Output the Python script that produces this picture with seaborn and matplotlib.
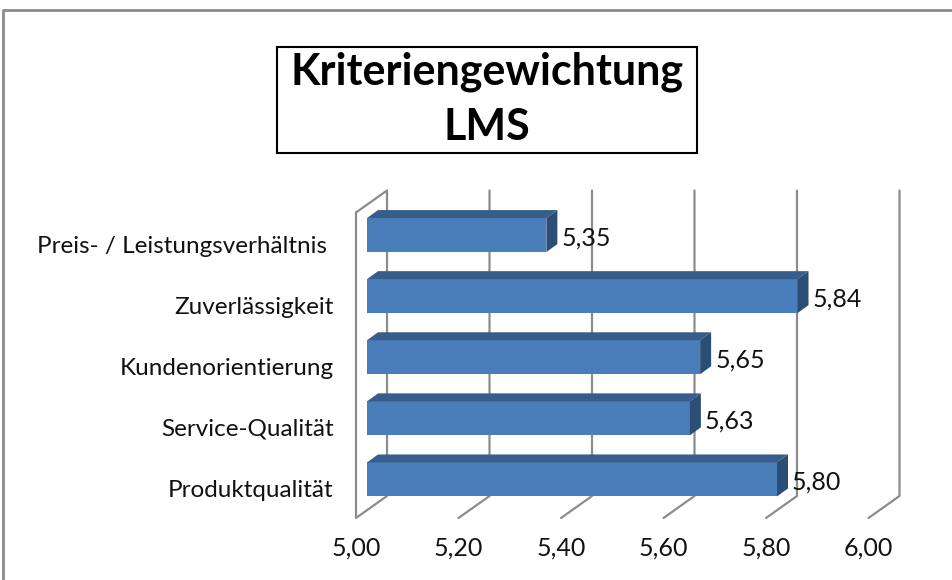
import numpy as np
import pandas as pd
import matplotlib
matplotlib.use("Agg")
import matplotlib.pyplot as plt
import seaborn as sns
from matplotlib.patches import Polygon, Rectangle
from matplotlib.lines import Line2D
from matplotlib.transforms import ScaledTranslation, IdentityTransform

# ── Data ─────────────────────────────────────────────────────────────────────
categories = [
    "Preis- / Leistungsverhältnis ",
    "Zuverlässigkeit",
    "Kundenorientierung",
    "Service-Qualität",
    "Produktqualität",
]
values = [5.35, 5.84, 5.65, 5.63, 5.80]
x_ticks = [5.00, 5.20, 5.40, 5.60, 5.80, 6.00]
title = "Kriteriengewichtung\nLMS"

# ── Style ────────────────────────────────────────────────────────────────────
sns.set_style("white")
plt.rcParams["font.family"] = ["Lato", "DejaVu Sans"]

FRONT = "#4A7EBB"
TOP = "#385D8A"
SIDE = "#2C4D75"
GRID = "#8C8C8C"
FS = 18

W, H, DPI = 953, 580, 100
fig = plt.figure(figsize=(W / DPI, H / DPI), dpi=DPI)

# axes box in pixels (front plane of the bars)
ax_l, ax_r = 367, 879.5
ax_t, ax_b = 204.5, 510
ax = fig.add_axes([ax_l / W, 1 - ax_b / H, (ax_r - ax_l) / W, (ax_b - ax_t) / H])
ax.patch.set_visible(False)

df = pd.DataFrame({"Kriterium": categories, "Wert": values})
bar_h = 0.556
sns.barplot(data=df, x="Wert", y="Kriterium", orient="h", color=FRONT,
            width=bar_h, saturation=1, edgecolor="none", ax=ax, zorder=3)
ax.set_xlim(5.0, 6.0)
ax.set_ylim(len(categories) - 0.5, -0.5)
for s in ax.spines.values():
    s.set_visible(False)
ax.set_xlabel("")
ax.set_ylabel("")
ax.set_xticks(x_ticks)
ax.set_xticklabels([f"{t:.2f}".replace(".", ",") for t in x_ticks], fontsize=FS, color="#111111")
ax.tick_params(axis="both", length=0)
ax.tick_params(axis="x", pad=19)
ax.tick_params(axis="y", pad=24)
ax.set_yticklabels(categories, fontsize=17.5, color="#111111")

# 3D offsets (pixels, display coords: y up)
dpx, dpy = 11, 8          # bar depth
bx, by = 20, 14           # back wall relative to bar front
fx, fy = -11, -8          # front floor relative to bar front

def off(dx, dy):
    return ScaledTranslation(dx / DPI, dy / DPI, fig.dpi_scale_trans)

for lab in ax.get_yticklabels():
    lab.set_transform(lab.get_transform() + off(0, -9))
for lab in ax.get_xticklabels():
    lab.set_transform(lab.get_transform() + off(fx, 0))

ident = IdentityTransform()
tD = ax.transData

# walls / gridlines
y_top_disp = tD.transform((5.0, -0.5))[1]
y_bot_disp = tD.transform((5.0, len(categories) - 0.5))[1]
for t in x_ticks:
    xd = tD.transform((t, 0))[0]
    pts = [(xd + fx, y_bot_disp + fy), (xd + bx, y_bot_disp + by), (xd + bx, y_top_disp + by)]
    if t == x_ticks[0]:
        pts = [(xd + fx, y_top_disp + fy), (xd + fx, y_bot_disp + fy)] + pts[1:] + \
              [(xd + bx, y_top_disp + by), (xd + fx, y_top_disp + fy)]
    xs, ys = zip(*pts)
    fig.add_artist(Line2D(xs, ys, transform=ident, color=GRID, lw=1.6, zorder=-1))

# 3D bar faces and value labels
for i, v in enumerate(values):
    x0, y_up = tD.transform((5.0, i - bar_h / 2))
    x1, y_lo = tD.transform((v, i + bar_h / 2))
    top = [(x0, y_up), (x1, y_up), (x1 + dpx, y_up + dpy), (x0 + dpx, y_up + dpy)]
    side = [(x1, y_up), (x1, y_lo), (x1 + dpx, y_lo + dpy), (x1 + dpx, y_up + dpy)]
    fig.add_artist(Polygon(top, closed=True, transform=ident, facecolor=TOP,
                           edgecolor="none", zorder=2))
    fig.add_artist(Polygon(side, closed=True, transform=ident, facecolor=SIDE,
                           edgecolor="none", zorder=2))
    fig.text(x1 + dpx + 4, (y_up + y_lo) / 2 - 3, f"{v:.2f}".replace(".", ","),
             transform=ident, ha="left", va="center", fontsize=FS,
             color="#111111", zorder=4)

# title box
fig.add_artist(Rectangle((277 / W, 1 - 153 / H), 420 / W, 106 / H,
                         transform=fig.transFigure, facecolor="white",
                         edgecolor="black", lw=1.5))
fig.text(487 / W, 1 - 99 / H, title, ha="center", va="center", color="black",
         fontsize=31, fontweight="bold", linespacing=1.45)

# outer chart border (cropped)
fig.add_artist(Line2D([3 / W, 3 / W, 1], [0, 1 - 10 / H, 1 - 10 / H],
                      transform=fig.transFigure, color="#8C8C8C", lw=2))

fig.savefig("out.png", dpi=DPI)
